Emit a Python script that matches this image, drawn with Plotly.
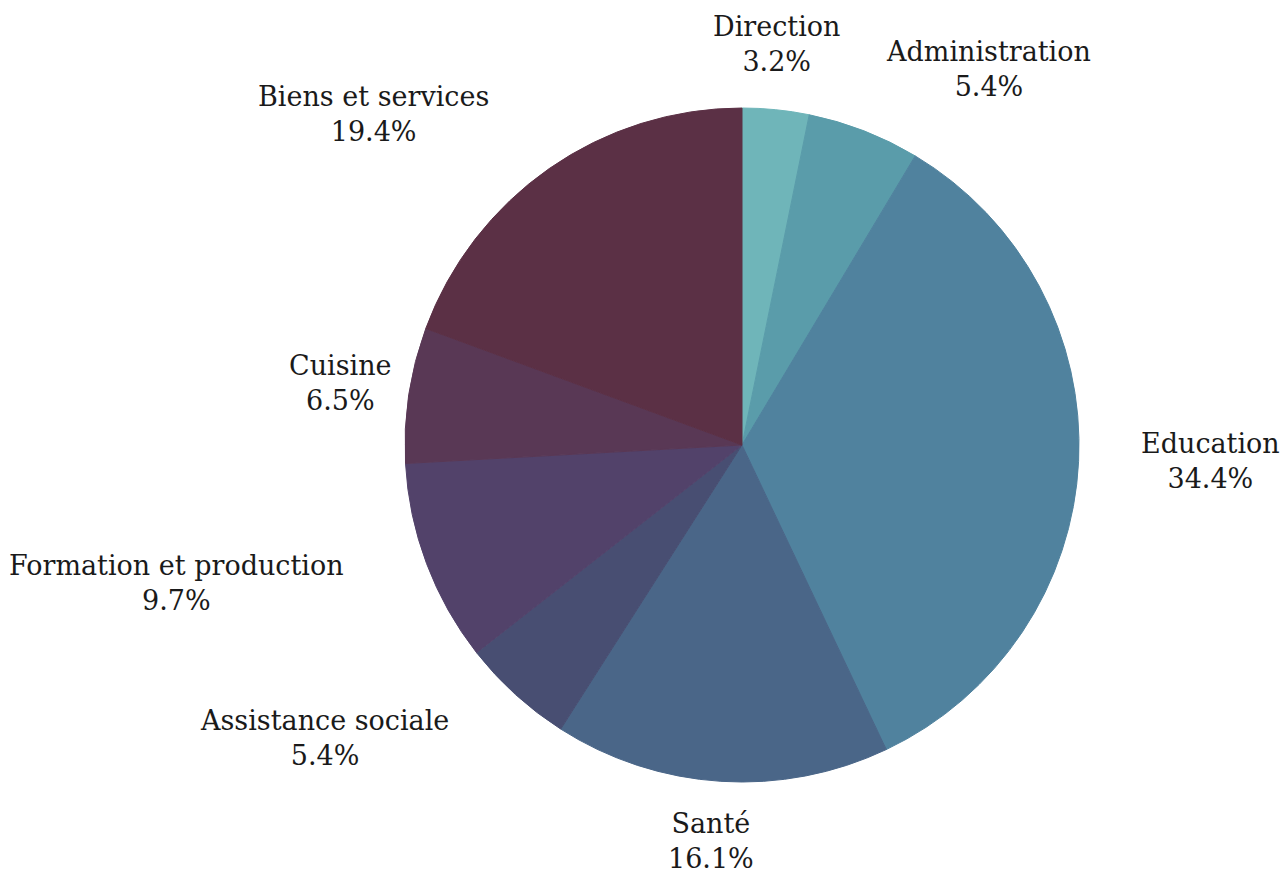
import math
import plotly.graph_objects as go

categories = ["Direction", "Administration", "Education", "Santé",
              "Assistance sociale", "Formation et production", "Cuisine",
              "Biens et services"]
values = [3.2, 5.4, 34.4, 16.1, 5.4, 9.7, 6.5, 19.4]
colors = ["#6fb5b9", "#5a9caa", "#50829e", "#4a6688",
          "#484e72", "#52426a", "#593855", "#5b3045"]

# label placement style (horizontal anchor of each label block)
label_anchor = ["center", "left", "left", "center",
                "right", "right", "center", "right"]

W, H = 1280, 873
CX, CY, R = 742, 445, 337  # pie centre / radius in pixels
R_LABEL = 400
FONT = dict(family="DejaVu Serif", size=27, color="#1a1a1a")

fig = go.Figure(go.Pie(
    labels=categories,
    values=values,
    textinfo="none",
    sort=False,
    direction="clockwise",
    rotation=0,
    hoverinfo="label+percent",
    marker=dict(colors=colors, line=dict(color=colors, width=1)),
    showlegend=False,
    domain=dict(
        x=[(CX - R) / W, (CX + R) / W],
        y=[1 - (CY + R) / H, 1 - (CY - R) / H],
    ),
))

total = sum(values)
cum = 0.0
annotations = []
for name, v, anchor in zip(categories, values, label_anchor):
    mid = (cum + v / 2) / total * 2 * math.pi
    cum += v
    px = CX + R_LABEL * math.sin(mid)
    py = CY - R_LABEL * math.cos(mid)
    shift = {"left": -3, "right": -22, "center": -6}[anchor]
    annotations.append(dict(
        x=px / W,
        y=1 - py / H,
        xref="paper", yref="paper",
        text=f"{name}<br>{v:.1f}%",
        showarrow=False,
        xanchor=anchor, yanchor="middle",
        align="center",
        xshift=shift,
        yshift=3,
        font=FONT,
    ))

fig.update_layout(
    width=W, height=H,
    margin=dict(l=0, r=0, t=0, b=0),
    paper_bgcolor="white",
    plot_bgcolor="white",
    annotations=annotations,
)

fig.write_html(
    "out.html",
    config={"displayModeBar": False},
    post_script="document.body.style.margin='0';document.body.style.overflow='hidden';",
)
